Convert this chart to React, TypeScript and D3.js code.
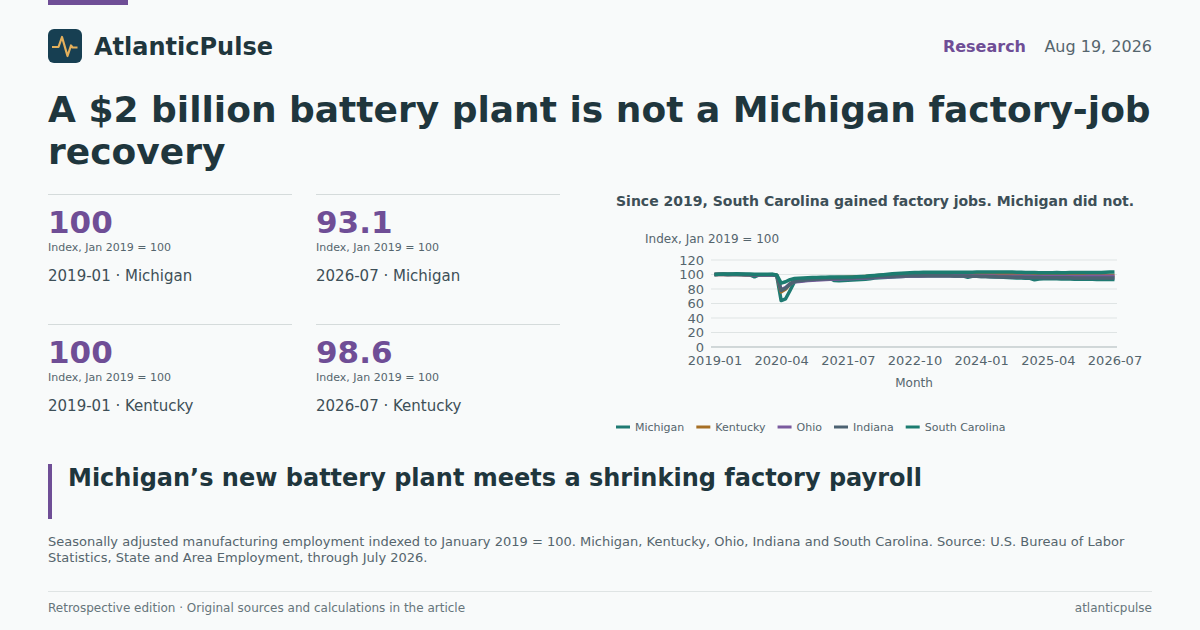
import * as d3 from "d3";
import React, { useEffect, useRef } from "react";

const FONT = "'DejaVu Sans', sans-serif";
const INK = "#1f363d";
const ACCENT = "#6f4e96";
const MUTED = "#55656d";
const BODY = "#3d4f57";

const years = [2019, 2020, 2021, 2022, 2023, 2024, 2025, 2026];
const months = years.flatMap((y) =>
  d3.range(1, y === 2026 ? 8 : 13).map((m) => `${y}-${String(m).padStart(2, "0")}`)
);
const tickMonths = ["2019-01", "2020-04", "2021-07", "2022-10", "2024-01", "2025-04", "2026-07"];
const yTicks = [0, 20, 40, 60, 80, 100, 120];

const michigan = [
  100, 100.2, 100.4, 100.1, 100.3, 100.2, 100, 99.8, 99.6, 96.8, 99.4, 99.7,
  99.8, 99.9, 98.6, 64, 66.5, 78, 90, 91, 91.8, 92.4, 93, 93.4,
  94, 94.3, 94.6, 91.6, 91.4, 91.8, 92.1, 92.4, 92.7, 93, 93.5, 94,
  95, 95.4, 95.8, 96.2, 96.6, 97, 97.3, 97.6, 97.8, 98, 98.1, 98.2,
  98.3, 98.4, 98.4, 98.3, 98.3, 98.2, 98.1, 98, 97.9, 96.2, 97.6, 97.5,
  97.3, 97.1, 96.9, 96.7, 96.5, 96.2, 96, 95.6, 95.2, 95, 94.9, 94.8,
  92.6, 93.8, 94.2, 94.2, 94.1, 94, 93.9, 93.8, 93.7, 93.6, 93.5, 93.4,
  93.3, 93.3, 93.2, 93.2, 93.1, 93.2, 93.1,
];
const kentucky = [
  100, 100.1, 100.2, 100.1, 100, 100.1, 99.9, 99.8, 99.7, 99.4, 99.5, 99.6,
  99.7, 99.7, 98.9, 76, 80, 87, 91, 91.5, 92.3, 93, 93.5, 94,
  94.5, 94.8, 95.2, 95.5, 95.8, 96, 96.2, 96.5, 96.8, 97, 97.4, 97.8,
  98.2, 98.6, 99, 99.3, 99.6, 99.9, 100.1, 100.3, 100.5, 100.6, 100.7, 100.7,
  100.8, 100.8, 100.8, 100.7, 100.7, 100.7, 100.6, 100.6, 100.6, 100.5, 100.5, 100.5,
  100.6, 100.6, 100.6, 100.6, 100.5, 100.5, 100.5, 100.5, 100.4, 100.4, 100.4, 100.4,
  100.4, 100.3, 100.3, 100.3, 100.3, 100.2, 100.2, 100.2, 100.1, 100.1, 100, 100,
  99.8, 99.6, 99.4, 99.2, 99, 98.8, 98.6,
];
const ohio = [
  100, 100.1, 100.1, 100, 100, 99.9, 99.9, 99.8, 99.6, 98.8, 99.2, 99.4,
  99.4, 99.5, 98.6, 79, 82, 87, 90, 90.5, 91, 91.6, 92, 92.4,
  92.8, 93, 93.3, 93.6, 93.9, 94.1, 94.3, 94.5, 94.8, 95, 95.2, 95.5,
  95.8, 96.1, 96.4, 96.7, 97, 97.2, 97.4, 97.6, 97.8, 97.9, 98, 98.1,
  98.2, 98.2, 98.3, 98.3, 98.3, 98.3, 98.2, 98.2, 98.2, 98.1, 98, 98,
  97.9, 97.9, 97.8, 97.8, 97.7, 97.7, 97.6, 97.6, 97.5, 97.5, 97.5, 97.5,
  97.4, 97.4, 97.4, 97.4, 97.4, 97.4, 97.4, 97.4, 97.4, 97.4, 97.4, 97.4,
  97.5, 97.5, 97.5, 97.5, 97.5, 97.6, 97.6,
];
const indiana = [
  100, 100.2, 100.2, 100.1, 100.1, 100, 100, 99.9, 99.8, 99.2, 99.5, 99.6,
  99.7, 99.7, 98.8, 78, 81, 87, 90.5, 91.2, 92, 92.6, 93, 93.4,
  93.8, 94.1, 94.3, 94.6, 94.9, 95, 95.1, 95.3, 95.5, 95.7, 96, 96.3,
  96.6, 96.9, 97.1, 97.4, 97.6, 97.8, 98, 98.1, 98.2, 98.3, 98.4, 98.4,
  98.4, 98.4, 98.4, 98.3, 98.3, 98.2, 98.1, 98, 97.9, 97.8, 97.7, 97.5,
  97.3, 97.1, 96.9, 96.8, 96.6, 96.5, 96.4, 96.3, 96.2, 96.1, 96, 95.9,
  95.8, 95.7, 95.6, 95.6, 95.5, 95.5, 95.4, 95.4, 95.4, 95.3, 95.3, 95.3,
  95.3, 95.2, 95.2, 95.2, 95.2, 95.1, 95.1,
];
const southCarolina = [
  100, 100.4, 100.6, 100.8, 100.7, 100.9, 100.8, 100.7, 100.6, 100.5, 100.4, 100.5,
  100.4, 100.3, 99.4, 88, 90, 93, 94.5, 95, 95.3, 95.6, 95.8, 96,
  96.2, 96.3, 96.4, 96.5, 96.6, 96.7, 96.6, 96.5, 96.8, 97.2, 97.6, 98.2,
  98.7, 99.3, 99.8, 100.3, 100.9, 101.4, 101.8, 102.2, 102.5, 102.8, 102.9, 103,
  103.1, 103.1, 103.2, 103, 103.1, 103.1, 103, 103.1, 103.2, 103.2, 103.2, 103.3,
  103.4, 103.5, 103.5, 103.6, 103.6, 103.5, 103.4, 103.3, 103.2, 103.1, 102.9, 102.7,
  102.6, 102.5, 102.5, 102.4, 102.5, 102.6, 102.5, 102.5, 102.6, 102.7, 102.6, 102.7,
  102.8, 102.9, 102.8, 102.9, 103.1, 103.3, 103.5,
];

const seriesNames = ["Michigan", "Kentucky", "Ohio", "Indiana", "South Carolina"];
const seriesValues = [michigan, kentucky, ohio, indiana, southCarolina];
const seriesColors = ["#1f7a72", "#a66f24", "#7a5a9e", "#4c6272", "#1c7c70"];

const kpiValues = ["100", "93.1", "100", "98.6"];
const kpiLabels = ["2019-01 · Michigan", "2026-07 · Michigan", "2019-01 · Kentucky", "2026-07 · Kentucky"];

const ChartArea = () => {
  const ref = useRef<SVGGElement | null>(null);

  useEffect(() => {
    const g = d3.select(ref.current);
    g.selectAll("*").remove();

    const x = d3.scalePoint<string>().domain(months).range([714.5, 1114.5]);
    const y = d3.scaleLinear().domain([0, 120]).range([347, 260]);

    g.append("g")
      .selectAll("line")
      .data(yTicks)
      .enter()
      .append("line")
      .attr("x1", 711)
      .attr("x2", 1117)
      .attr("y1", (d) => y(d))
      .attr("y2", (d) => y(d))
      .attr("stroke", (d) => (d === 0 ? "#a9b5b7" : "#dfe4e4"))
      .attr("stroke-width", 1);

    const yAxis = g
      .append("g")
      .attr("transform", "translate(711,0)")
      .call(d3.axisLeft(y).tickValues(yTicks).tickSize(0).tickPadding(7));
    const xAxis = g
      .append("g")
      .attr("transform", "translate(0,347)")
      .call(d3.axisBottom(x).tickValues(tickMonths).tickSize(0).tickPadding(9));
    [yAxis, xAxis].forEach((a) => {
      a.select(".domain").remove();
      a.selectAll("text").attr("font-family", FONT).attr("font-size", 13).attr("fill", MUTED);
    });

    const line = d3
      .line<number>()
      .x((_, i) => x(months[i])!)
      .y((d) => y(d));

    g.append("g")
      .selectAll("path")
      .data(seriesValues)
      .enter()
      .append("path")
      .attr("d", (d) => line(d))
      .attr("fill", "none")
      .attr("stroke", (_, i) => seriesColors[i])
      .attr("stroke-width", 3.5)
      .attr("stroke-linejoin", "round");

    // legend flows left to right from the measured label widths
    const legend = g.append("g").attr("transform", "translate(616,427)");
    let cursor = 0;
    seriesNames.forEach((name, i) => {
      legend
        .append("line")
        .attr("x1", cursor)
        .attr("x2", cursor + 14)
        .attr("stroke", seriesColors[i])
        .attr("stroke-width", 3);
      const label = legend
        .append("text")
        .attr("x", cursor + 19)
        .attr("y", 4)
        .attr("font-family", FONT)
        .attr("font-size", 11)
        .attr("fill", MUTED)
        .text(name);
      cursor += 19 + (label.node() as SVGTextElement).getComputedTextLength() + 12;
    });
  }, []);

  return <g ref={ref} />;
};

export default function App() {
  return (
    <svg
      width={1200}
      height={630}
      viewBox="0 0 1200 630"
      style={{ position: "absolute", left: 0, top: 0 }}
      fontFamily={FONT}
    >
      <rect width={1200} height={630} fill="#f8fafa" />
      <rect x={48} y={0} width={80} height={5} fill={ACCENT} />

      <rect x={48} y={29} width={34} height={34} rx={6} fill="#173f52" />
      <path
        d="M52 47 H58.5 L62 37 L67.5 56 L71 45.5 L72.5 47.5 H77.5"
        fill="none"
        stroke="#e3b05c"
        strokeWidth={2.2}
        strokeLinejoin="round"
      />
      <text x={94} y={55} fontSize={24} fontWeight={700} fill={INK}>AtlanticPulse</text>
      <text x={1026} y={52} fontSize={16} fontWeight={700} fill={ACCENT} textAnchor="end">Research</text>
      <text x={1152} y={52} fontSize={16} fill={MUTED} textAnchor="end">Aug 19, 2026</text>

      <text x={48} y={122} fontSize={36} fontWeight={700} fill={INK}>
        A $2 billion battery plant is not a Michigan factory-job
      </text>
      <text x={48} y={164} fontSize={36} fontWeight={700} fill={INK}>recovery</text>

      {kpiValues.map((v, i) => {
        const left = 48 + (i % 2) * 268;
        const top = 194 + Math.floor(i / 2) * 130;
        return (
          <g key={i}>
            <line x1={left} x2={left + 244} y1={top + 0.5} y2={top + 0.5} stroke="#d5dbdb" />
            <text x={left} y={top + 39} fontSize={31} fontWeight={700} fill={ACCENT}>{v}</text>
            <text x={left} y={top + 57} fontSize={11} fill={MUTED}>Index, Jan 2019 = 100</text>
            <text x={left} y={top + 87} fontSize={15} fill={BODY}>{kpiLabels[i]}</text>
          </g>
        );
      })}

      <text x={616} y={206} fontSize={14} fontWeight={700} fill={BODY}>
        Since 2019, South Carolina gained factory jobs. Michigan did not.
      </text>
      <text x={645} y={243} fontSize={12} fill={MUTED}>Index, Jan 2019 = 100</text>
      <text x={914} y={387} fontSize={12} fill={MUTED} textAnchor="middle">Month</text>
      <ChartArea />

      <rect x={48} y={464} width={4} height={55} fill={ACCENT} />
      <text x={68} y={486} fontSize={24} fontWeight={700} fill={INK}>
        Michigan’s new battery plant meets a shrinking factory payroll
      </text>
      <text x={48} y={546} fontSize={13} fill={MUTED}>
        Seasonally adjusted manufacturing employment indexed to January 2019 = 100. Michigan, Kentucky, Ohio, Indiana and South Carolina. Source: U.S. Bureau of Labor
      </text>
      <text x={48} y={562} fontSize={13} fill={MUTED}>
        Statistics, State and Area Employment, through July 2026.
      </text>

      <line x1={48} x2={1152} y1={591.5} y2={591.5} stroke="#dfe4e4" />
      <text x={48} y={612} fontSize={12} fill="#66757b">Retrospective edition · Original sources and calculations in the article</text>
      <text x={1152} y={612} fontSize={12} fill="#66757b" textAnchor="end">atlanticpulse</text>
    </svg>
  );
}
